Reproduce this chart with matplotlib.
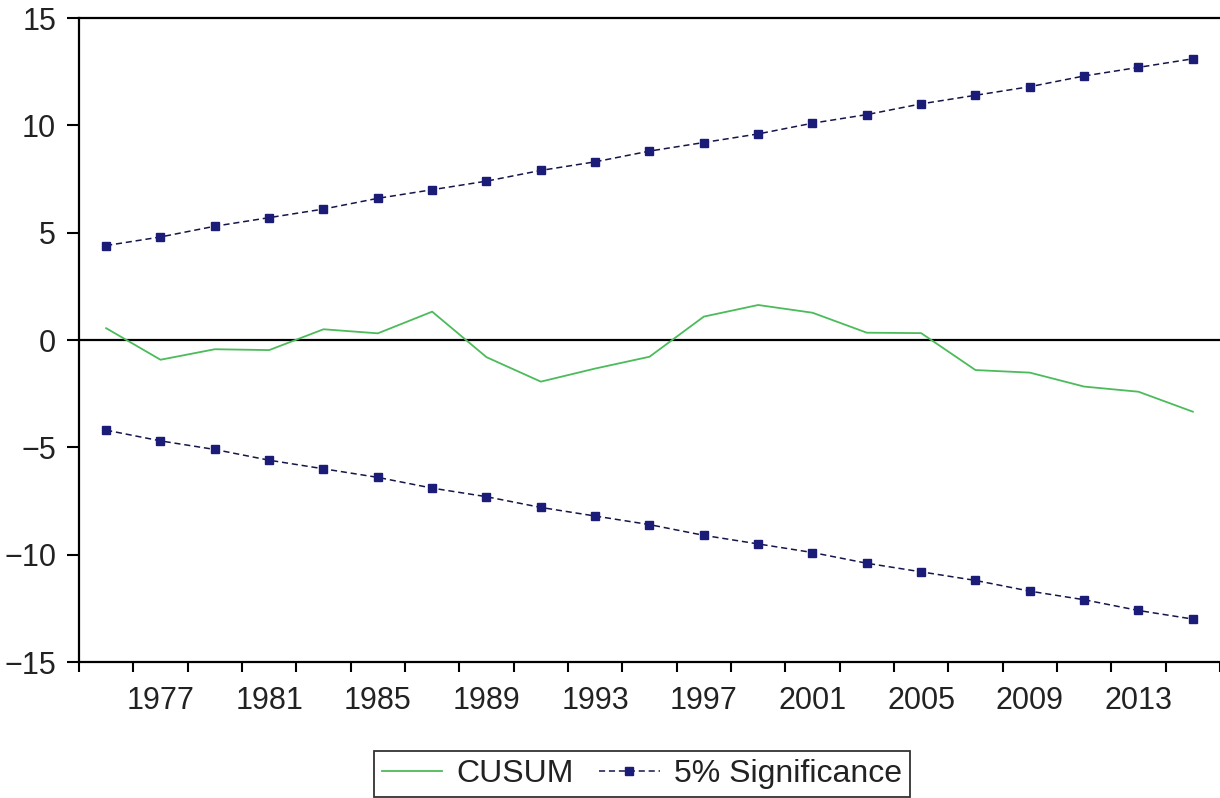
import matplotlib
matplotlib.use('Agg')
import matplotlib.pyplot as plt
from matplotlib.ticker import FixedLocator, NullFormatter

# ---- data ----
years = [1975, 1977, 1979, 1981, 1983, 1985, 1987, 1989, 1991, 1993, 1995,
         1997, 1999, 2001, 2003, 2005, 2007, 2009, 2011, 2013, 2015]
cusum = [0.55, -0.92, -0.43, -0.47, 0.50, 0.31, 1.32, -0.80, -1.94, -1.33, -0.78,
         1.09, 1.63, 1.27, 0.34, 0.32, -1.40, -1.52, -2.17, -2.41, -3.34]
upper = [4.4, 4.8, 5.3, 5.7, 6.1, 6.6, 7.0, 7.4, 7.9, 8.3, 8.8,
         9.2, 9.6, 10.1, 10.5, 11.0, 11.4, 11.8, 12.3, 12.7, 13.1]
lower = [-4.2, -4.7, -5.1, -5.6, -6.0, -6.4, -6.9, -7.3, -7.8, -8.2, -8.6,
         -9.1, -9.5, -9.9, -10.4, -10.8, -11.2, -11.7, -12.1, -12.6, -13.0]
label_years = [1977, 1981, 1985, 1989, 1993, 1997, 2001, 2005, 2009, 2013]
minor_years = list(range(1974, 2017, 2))
y_ticks = [-15, -10, -5, 0, 5, 10, 15]

plt.rcParams['font.family'] = ['Liberation Sans', 'DejaVu Sans']

W, H = 1220, 798
fig = plt.figure(figsize=(W / 100, H / 100), dpi=100)
ax = fig.add_axes([79 / W, 1 - 662 / H, (W - 79) / W, (662 - 18) / H])

green = '#4cbb5a'
navy = '#1b1b78'

ax.axhline(0, color='black', lw=1.6, zorder=1)
l1, = ax.plot(years, cusum, color=green, lw=1.3, label='CUSUM', zorder=3)
l2, = ax.plot(years, upper, color='#15154a', lw=1.1, ls=(0, (4, 2.5)),
              marker='s', ms=5.8, mfc=navy, mec=navy,
              label='5% Significance', zorder=2)
ax.plot(years, lower, color='#15154a', lw=1.1, ls=(0, (4, 2.5)),
        marker='s', ms=5.8, mfc=navy, mec=navy, zorder=2)

ax.set_xlim(1974, 2016)
ax.set_ylim(-15, 15)

for side in ['left', 'top', 'bottom']:
    ax.spines[side].set_linewidth(1.6)
    ax.spines[side].set_color('black')
ax.spines['right'].set_visible(False)

ax.set_yticks(y_ticks)
ax.set_yticklabels([str(v).replace('-', '\u2212') for v in y_ticks])
ax.tick_params(axis='y', direction='out', length=8.5, width=1.5,
               pad=8, labelsize=22, colors='black', labelcolor='#222222')

ax.xaxis.set_major_locator(FixedLocator(label_years))
ax.set_xticklabels([str(v) for v in label_years])
ax.xaxis.set_minor_locator(FixedLocator(minor_years))
ax.xaxis.set_minor_formatter(NullFormatter())
ax.tick_params(axis='x', which='major', length=0, pad=17,
               labelsize=22, labelcolor='#222222')
ax.tick_params(axis='x', which='minor', direction='out', length=7,
               width=1.5, colors='black')

leg = fig.legend(handles=[l1, l2], loc='lower center',
                 bbox_to_anchor=(642 / W, 1 / H), ncol=2, numpoints=1,
                 fontsize=23, frameon=True, fancybox=False,
                 edgecolor='black', handlelength=1.9, handletextpad=0.45,
                 columnspacing=0.78, borderpad=0.25, borderaxespad=0)
leg.get_frame().set_linewidth(1.3)
for t in leg.get_texts():
    t.set_color('#222222')

fig.savefig('out.png', dpi=100, facecolor='white')
